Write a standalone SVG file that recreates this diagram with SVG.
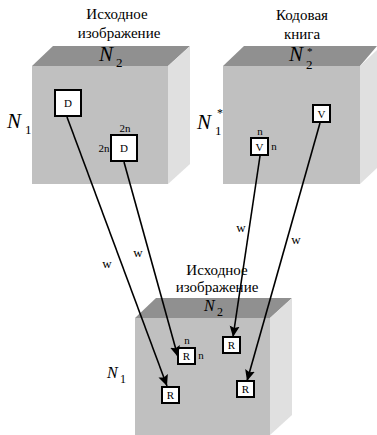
<svg xmlns="http://www.w3.org/2000/svg" width="377" height="435" viewBox="0 0 377 435" font-family="'Liberation Serif', 'Times New Roman', 'DejaVu Serif', serif">
  <style>
    .front { fill: #c0c0c0; }
    .top { fill: #909090; }
    .side { fill: #e0e0e0; }
    .box { fill: #ffffff; stroke: #000000; stroke-width: 2; }
    .lbl { font-family: 'Liberation Serif', 'Times New Roman', 'DejaVu Serif', serif; fill: #000000; }
    .cap { font-size: 15px; text-anchor: middle; }
    .small { font-size: 11px; }
    .w { font-size: 13px; text-anchor: middle; }
    .ni { font-style: italic; }
    .link { stroke: #000000; stroke-width: 1.6; fill: none; marker-end: url(#arrow); }
  </style>
  <defs>
    <marker id="arrow" markerUnits="userSpaceOnUse" markerWidth="12" markerHeight="12" viewBox="0 0 12 12" refX="11" refY="6" orient="auto">
      <path d="M0,1 L11,6 L0,11 L2,6 Z" fill="#000000"/>
    </marker>
  </defs>

  <!-- source image cube -->
  <g id="source-cube">
    <polygon class="top" points="32,66 53,46 190,46 168,66"/>
    <polygon class="side" points="168,66 190,46 190,164 168,184"/>
    <rect class="front" x="32" y="66" width="136" height="118"/>
    <text class="lbl cap" x="117" y="19">Исходное</text>
    <text class="lbl cap" x="119" y="38">изображение</text>
    <text class="lbl ni" x="99" y="61" font-size="21">N</text>
    <text class="lbl" x="116" y="67" font-size="13">2</text>
    <text class="lbl ni" x="7" y="128" font-size="21">N</text>
    <text class="lbl" x="25" y="134" font-size="13">1</text>
  </g>

  <!-- codebook cube -->
  <g id="codebook-cube">
    <polygon class="top" points="223,66 244,46 377,46 360,66"/>
    <polygon class="side" points="360,66 377,50 377,168 360,184"/>
    <rect class="front" x="223" y="66" width="137" height="118"/>
    <text class="lbl cap" x="302" y="20">Кодовая</text>
    <text class="lbl cap" x="302" y="39">книга</text>
    <text class="lbl ni" x="289" y="61" font-size="21">N</text>
    <text class="lbl" x="307" y="55" font-size="11">*</text>
    <text class="lbl" x="306" y="69" font-size="13">2</text>
    <text class="lbl ni" x="197" y="129" font-size="21">N</text>
    <text class="lbl" x="217" y="117" font-size="12">*</text>
    <text class="lbl" x="215" y="135" font-size="13">1</text>
  </g>

  <!-- target image cube -->
  <g id="target-cube">
    <polygon class="top" points="135,318 156,298 292,298 270,318"/>
    <polygon class="side" points="270,318 292,298 292,415 270,435"/>
    <rect class="front" x="135" y="318" width="135" height="117"/>
    <text class="lbl cap" x="217" y="275">Исходное</text>
    <text class="lbl cap" x="217" y="292">изображение</text>
    <text class="lbl ni" x="204" y="311" font-size="16">N</text>
    <text class="lbl" x="217" y="316" font-size="12">2</text>
    <text class="lbl ni" x="107" y="378" font-size="16">N</text>
    <text class="lbl" x="120" y="383" font-size="12">1</text>
  </g>

  <!-- domain blocks -->
  <g id="domain-d1">
    <rect class="box" x="55" y="90" width="26" height="26"/>
    <text class="lbl small" x="68" y="107" text-anchor="middle">D</text>
  </g>
  <g id="domain-d2">
    <rect class="box" x="111" y="135" width="26" height="26"/>
    <text class="lbl small" x="124" y="152" text-anchor="middle">D</text>
    <text class="lbl small" x="125" y="132" text-anchor="middle">2n</text>
    <text class="lbl small" x="104" y="152" text-anchor="middle">2n</text>
  </g>

  <!-- codebook blocks -->
  <g id="code-v1">
    <rect class="box" x="313" y="105" width="17" height="17"/>
    <text class="lbl small" x="321.5" y="117.5" text-anchor="middle">V</text>
  </g>
  <g id="code-v2">
    <rect class="box" x="251" y="138" width="17" height="17"/>
    <text class="lbl small" x="259.5" y="150.5" text-anchor="middle">V</text>
    <text class="lbl small" x="260" y="135" text-anchor="middle">n</text>
    <text class="lbl small" x="274" y="150" text-anchor="middle">n</text>
  </g>

  <!-- range blocks -->
  <g id="range-r1">
    <rect class="box" x="162" y="387" width="17" height="16"/>
    <text class="lbl small" x="170.5" y="399" text-anchor="middle">R</text>
  </g>
  <g id="range-r2">
    <rect class="box" x="178" y="348" width="17" height="16"/>
    <text class="lbl small" x="186.5" y="360" text-anchor="middle">R</text>
    <text class="lbl small" x="187" y="344" text-anchor="middle">n</text>
    <text class="lbl small" x="201" y="359" text-anchor="middle">n</text>
  </g>
  <g id="range-r3">
    <rect class="box" x="223" y="337" width="17" height="16"/>
    <text class="lbl small" x="231.5" y="349" text-anchor="middle">R</text>
  </g>
  <g id="range-r4">
    <rect class="box" x="237" y="381" width="17" height="16"/>
    <text class="lbl small" x="245.5" y="393" text-anchor="middle">R</text>
  </g>

  <!-- mappings -->
  <g id="connectors">
    <line class="link" x1="67" y1="117" x2="167" y2="386"/>
    <line class="link" x1="124" y1="162" x2="178" y2="357"/>
    <line class="link" x1="260" y1="156" x2="233" y2="337"/>
    <line class="link" x1="320" y1="123" x2="247" y2="381"/>
    <text class="lbl w" x="107" y="268">w</text>
    <text class="lbl w" x="138" y="257">w</text>
    <text class="lbl w" x="241" y="232">w</text>
    <text class="lbl w" x="296" y="244">w</text>
  </g>
</svg>
